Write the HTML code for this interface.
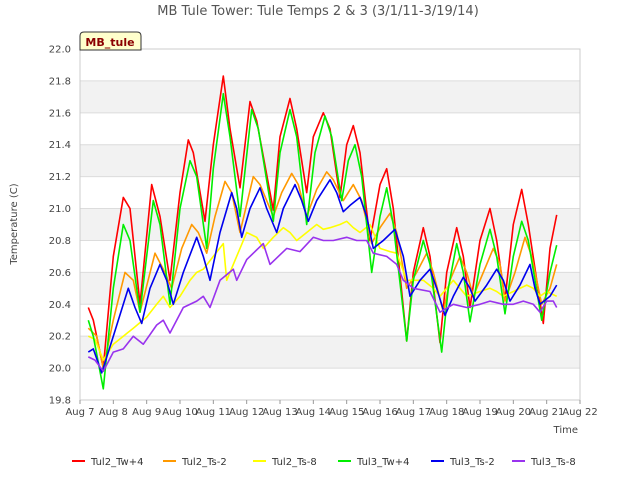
<!DOCTYPE html>
<html><head><meta charset="utf-8"><style>
body{margin:0;background:#fff;font-family:"Liberation Sans","DejaVu Sans",sans-serif;}
</style></head><body>
<svg id="chart" width="640" height="480" xmlns="http://www.w3.org/2000/svg" font-family="DejaVu Sans, Liberation Sans, sans-serif">
<rect width="640" height="480" fill="#fff"/>
<g id="bands"></g>
<g id="grid"></g>
<rect x="80" y="49" width="500" height="351" fill="none" stroke="#ccc"/>
<text x="318" y="15" text-anchor="middle" font-size="13" fill="#555">MB Tule Tower: Tule Temps 2 &amp; 3 (3/1/11-3/19/14)</text>
<text transform="translate(17,224) rotate(-90)" text-anchor="middle" font-size="10" fill="#444">Temperature (C)</text>
<text x="578" y="433" text-anchor="end" font-size="10" fill="#444">Time</text>
<g id="ticks" font-size="10" fill="#444"></g>
<g id="series"></g>
<g>
<path d="M80,50 L80,36 Q80,32 84,32 L137,32 Q141,32 141,36 L141,50 Z" fill="#ffffcc" stroke="#333"/>
<text x="110" y="46" text-anchor="middle" font-size="11" font-weight="bold" fill="#8b0000">MB_tule</text>
</g>
<g id="legend" font-size="10" fill="#333"></g>
</svg>
<script>
const yTicks=[19.8,20.0,20.2,20.4,20.6,20.8,21.0,21.2,21.4,21.6,21.8,22.0];
const xTickDays=[7,8,9,10,11,12,13,14,15,16,17,18,19,20,21,22];
const seriesNames=["Tul2_Tw+4","Tul2_Ts-2","Tul2_Ts-8","Tul3_Tw+4","Tul3_Ts-2","Tul3_Ts-8"];
const seriesColors=["#ff0000","#ff9900","#ffff00","#00ee00","#0000ee","#9933ee"];
const tRed=[7.25,7.4,7.7,8.0,8.3,8.5,8.8,9.15,9.4,9.7,10.0,10.25,10.4,10.75,11.0,11.3,11.5,11.8,12.1,12.3,12.8,13.0,13.3,13.5,13.8,14.0,14.3,14.5,14.8,15.0,15.2,15.4,15.7,16.0,16.2,16.4,16.8,17.0,17.3,17.5,17.8,18.0,18.3,18.5,18.7,19.0,19.3,19.5,19.75,20.0,20.25,20.45,20.9,21.1,21.3];
const vRed=[20.38,20.3,20.0,20.7,21.07,21.0,20.4,21.15,20.95,20.55,21.1,21.43,21.35,20.92,21.4,21.83,21.5,21.13,21.67,21.55,20.99,21.45,21.69,21.5,21.1,21.45,21.6,21.5,21.07,21.4,21.52,21.35,20.8,21.15,21.25,21.0,20.17,20.6,20.88,20.7,20.16,20.6,20.88,20.7,20.38,20.8,21.0,20.8,20.43,20.9,21.12,20.9,20.28,20.75,20.96];
const tGreen=[7.25,7.4,7.7,8.0,8.3,8.5,8.8,9.2,9.4,9.7,10.0,10.3,10.5,10.8,11.0,11.3,11.5,11.8,12.15,12.35,12.8,13.0,13.3,13.5,13.8,14.05,14.35,14.55,14.85,15.05,15.25,15.45,15.75,16.0,16.2,16.4,16.8,17.0,17.3,17.5,17.85,18.05,18.3,18.5,18.7,19.0,19.3,19.5,19.75,20.0,20.25,20.45,20.85,21.1,21.3];
const vGreen=[20.3,20.2,19.87,20.5,20.9,20.8,20.35,21.05,20.9,20.4,21.0,21.3,21.2,20.75,21.25,21.72,21.45,20.95,21.62,21.5,20.92,21.35,21.62,21.45,20.9,21.35,21.58,21.45,21.05,21.3,21.4,21.2,20.6,20.95,21.13,20.9,20.17,20.55,20.8,20.65,20.1,20.5,20.78,20.6,20.29,20.65,20.87,20.7,20.34,20.7,20.92,20.8,20.3,20.6,20.77];
const tOrange=[7.25,7.5,7.7,8.0,8.35,8.6,8.8,9.25,9.5,9.75,10.05,10.35,10.55,10.8,11.05,11.35,11.55,11.8,12.2,12.4,12.8,13.05,13.35,13.55,13.8,14.1,14.4,14.6,14.9,15.2,15.45,15.75,16.0,16.3,16.5,16.8,17.1,17.4,17.6,17.9,18.1,18.4,18.6,18.8,19.1,19.4,19.6,19.75,20.05,20.35,20.55,20.85,21.1,21.3];
const vOrange=[20.25,20.2,20.0,20.3,20.6,20.55,20.35,20.72,20.62,20.5,20.75,20.9,20.85,20.72,20.95,21.17,21.1,20.85,21.2,21.15,20.95,21.1,21.22,21.15,20.95,21.12,21.23,21.18,21.05,21.15,21.05,20.78,20.88,20.97,20.85,20.5,20.6,20.72,20.6,20.35,20.55,20.7,20.6,20.45,20.6,20.75,20.65,20.42,20.6,20.82,20.7,20.4,20.5,20.65];
const tBlue=[7.25,7.4,7.65,8.0,8.45,8.65,8.85,9.1,9.4,9.6,9.8,10.1,10.5,10.7,10.9,11.2,11.55,11.7,11.85,12.1,12.4,12.6,12.9,13.1,13.45,13.65,13.85,14.1,14.5,14.7,14.9,15.1,15.4,15.6,15.8,16.1,16.45,16.7,16.9,17.2,17.5,17.7,17.95,18.2,18.5,18.7,18.85,19.2,19.5,19.7,19.9,20.2,20.5,20.65,20.8,21.1,21.3];
const vBlue=[20.1,20.12,19.97,20.2,20.5,20.38,20.28,20.5,20.65,20.55,20.4,20.6,20.82,20.7,20.55,20.85,21.1,21.0,20.82,21.0,21.13,21.0,20.85,21.0,21.15,21.05,20.92,21.05,21.18,21.1,20.98,21.02,21.07,20.95,20.75,20.8,20.87,20.7,20.45,20.55,20.62,20.5,20.33,20.45,20.57,20.5,20.42,20.52,20.62,20.55,20.42,20.52,20.65,20.5,20.4,20.45,20.52];
const tYellow=[7.25,7.45,7.7,8.0,8.3,8.6,9.0,9.3,9.5,9.7,10.0,10.3,10.5,10.7,11.0,11.3,11.4,11.6,12.0,12.3,12.5,12.8,13.1,13.3,13.5,13.8,14.1,14.3,14.5,14.8,15.0,15.2,15.4,15.7,16.0,16.3,16.5,16.8,17.0,17.3,17.6,17.8,18.0,18.2,18.4,18.6,19.0,19.3,19.5,19.7,20.0,20.4,20.6,20.8,21.0,21.3];
const vYellow=[20.2,20.18,20.05,20.15,20.2,20.25,20.32,20.4,20.45,20.38,20.45,20.55,20.6,20.62,20.7,20.78,20.55,20.65,20.85,20.82,20.75,20.82,20.88,20.85,20.8,20.85,20.9,20.87,20.88,20.9,20.92,20.88,20.85,20.9,20.75,20.73,20.72,20.55,20.55,20.55,20.5,20.45,20.5,20.55,20.5,20.45,20.48,20.5,20.48,20.45,20.48,20.52,20.5,20.45,20.48,20.45];
const tPurple=[7.25,7.45,7.7,8.0,8.3,8.6,8.9,9.3,9.5,9.7,10.1,10.5,10.7,10.9,11.2,11.6,11.7,12.0,12.2,12.5,12.7,13.2,13.6,14.0,14.3,14.6,15.0,15.3,15.6,15.8,16.2,16.5,16.7,17.0,17.5,17.8,18.2,18.6,19.0,19.3,19.7,20.0,20.3,20.6,20.8,21.0,21.2,21.3];
const vPurple=[20.07,20.05,19.98,20.1,20.12,20.2,20.15,20.27,20.3,20.22,20.38,20.42,20.45,20.38,20.55,20.62,20.55,20.68,20.72,20.78,20.65,20.75,20.73,20.82,20.8,20.8,20.82,20.8,20.8,20.72,20.7,20.65,20.55,20.5,20.48,20.35,20.4,20.38,20.4,20.42,20.4,20.4,20.42,20.4,20.35,20.42,20.42,20.38];
const seriesT=[tRed,tOrange,tYellow,tGreen,tBlue,tPurple];
const seriesV=[vRed,vOrange,vYellow,vGreen,vBlue,vPurple];
const NS="http://www.w3.org/2000/svg";
const X0=80,X1=580,Y0=400,Y1=49;
function xs(d){return X0+(d-7)/15*(X1-X0);}
function ys(v){return Y0-(v-19.8)/2.2*(Y0-Y1);}
function mk(tag,attrs,parent){const e=document.createElementNS(NS,tag);for(const k in attrs)e.setAttribute(k,attrs[k]);parent.appendChild(e);return e;}
const bands=document.getElementById('bands'),grid=document.getElementById('grid'),ticks=document.getElementById('ticks');
for(let i=0;i<yTicks.length-1;i++){
  if(i%2===1){const b=mk('rect',{x:X0,y:ys(yTicks[i+1]),width:X1-X0,height:ys(yTicks[i])-ys(yTicks[i+1]),fill:'#f2f2f2'},bands);
  
  }
}
yTicks.forEach(v=>{
  const l=mk('line',{x1:X0,x2:X1,y1:ys(v),y2:ys(v),stroke:'#dcdcdc'},grid);
  
  
  const t=mk('text',{x:X0-9,y:ys(v)+3.5,'text-anchor':'end'},ticks);t.textContent=v.toFixed(1);
  
  
});
xTickDays.forEach(d=>{
  const l=mk('line',{x1:xs(d),x2:xs(d),y1:Y0,y2:Y0+4,stroke:'#999'},ticks);
  
  
  const t=mk('text',{x:xs(d),y:Y0+15,'text-anchor':'middle'},ticks);t.textContent='Aug '+d;
  
  
});
const sg=document.getElementById('series');
seriesT.forEach((ts,i)=>{
  const pts=ts.map((t,j)=>xs(t).toFixed(1)+','+ys(seriesV[i][j]).toFixed(1)).join(' ');
  const p=mk('polyline',{points:pts,fill:'none',stroke:seriesColors[i],'stroke-width':1.6,'stroke-linejoin':'round'},sg);
  
  
});
const lg=document.getElementById('legend');
const lx=[72,163,253,338,431,512];
seriesNames.forEach((n,i)=>{
  const g=mk('g',{},lg);
  
  
  mk('line',{x1:lx[i],x2:lx[i]+13,y1:461,y2:461,stroke:seriesColors[i],'stroke-width':2},g);
  const t=mk('text',{x:lx[i]+19,y:465},g);t.textContent=n;
});
</script>
</body></html>
